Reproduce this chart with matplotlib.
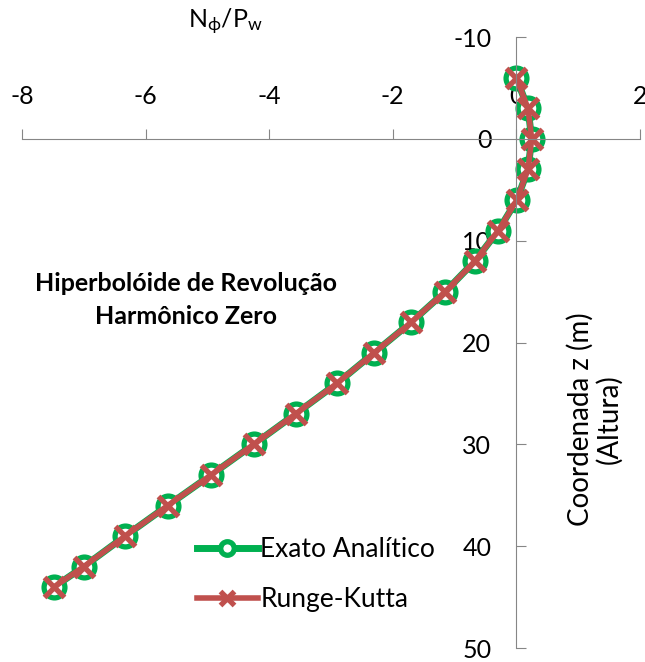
import matplotlib.pyplot as plt

# valores: N_phi/P_w versus z (m)
z = [-6, -3, 0, 3, 6, 9, 12, 15, 18, 21, 24, 27, 30, 33, 36, 39, 42, 44]
exato = [0.0, 0.19, 0.25, 0.19, 0.01, -0.29, -0.67, -1.15, -1.70, -2.30,
         -2.90, -3.57, -4.25, -4.94, -5.64, -6.33, -7.00, -7.48]
runge = [0.0, 0.19, 0.25, 0.19, 0.01, -0.29, -0.67, -1.15, -1.70, -2.30,
         -2.90, -3.57, -4.25, -4.94, -5.64, -6.33, -7.00, -7.48]

xticks = [-8, -6, -4, -2, 0, 2]
yticks = [-10, 0, 10, 20, 30, 40, 50]

plt.rcParams['font.family'] = ['Lato', 'DejaVu Sans']
plt.rcParams['axes.unicode_minus'] = False
plt.rcParams['mathtext.fontset'] = 'custom'
plt.rcParams['mathtext.rm'] = 'Lato'
plt.rcParams['mathtext.it'] = 'Lato'

fig = plt.figure(figsize=(6.45, 6.62), dpi=100)
ax = fig.add_axes([0.034, 0.021, 0.958, 0.923])

ax.plot(exato, z, color='#00B050', lw=5.0, marker='o', ms=15,
        mfc='white', mec='#00B050', mew=3.8, label='Exato Analítico')
ax.plot(runge, z, color='#C0504D', lw=4.0, marker='x', ms=15,
        mec='#C0504D', mew=3.8, label='Runge-Kutta')

ax.set_xlim(-8, 2)
ax.set_ylim(50, -10)
ax.set_xticks(xticks)
ax.set_yticks(yticks)

gray = '#868686'
ax.spines['bottom'].set_visible(False)
ax.spines['right'].set_visible(False)
ax.spines['top'].set_position(('data', 0))
ax.spines['left'].set_position(('data', 0))
ax.spines['top'].set_color(gray)
ax.spines['left'].set_color(gray)
ax.xaxis.tick_top()
ax.tick_params(axis='x', direction='out', length=7, color=gray, pad=15,
               labelsize=18)
ax.tick_params(axis='y', direction='in', length=7, color=gray, pad=18,
               labelsize=18)

fig.text(0.35, 0.967, r'N$_{\mathrm{ϕ}}$/P$_{\mathrm{w}}$', fontsize=18,
         ha='center', va='center')
ax.text(-5.35, 15.8, 'Hiperbolóide de Revolução\nHarmônico Zero', fontsize=18,
        fontweight='bold', ha='center', va='center', linespacing=1.55)
ax.text(0.927, 0.374, 'Coordenada z (m)\n(Altura)', transform=ax.transAxes,
        fontsize=20, rotation=90, ha='center', va='center', linespacing=1.05)

ax.legend(loc='lower left', bbox_to_anchor=(0.245, 0.02), frameon=False,
          fontsize=19, handlelength=2.3, handletextpad=0.1, labelspacing=0.95,
          markerscale=0.65)

fig.savefig('out.png', dpi=100)
